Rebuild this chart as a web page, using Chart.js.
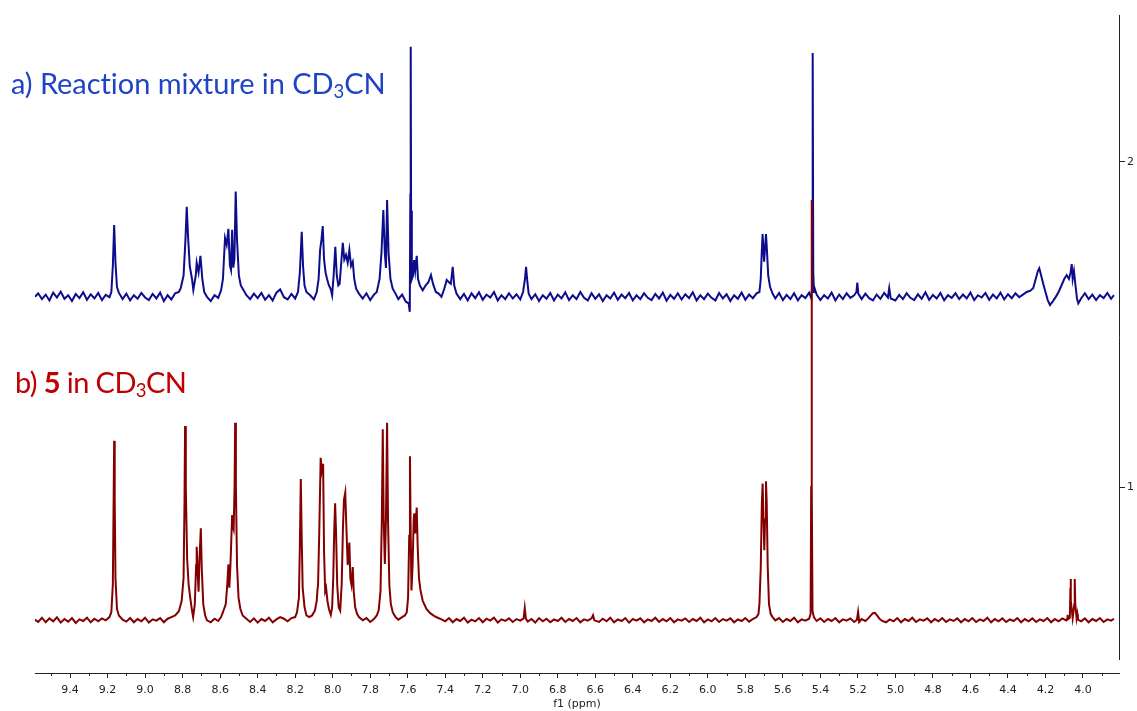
<!DOCTYPE html>
<html>
<head>
<meta charset="utf-8">
<title>1H NMR</title>
<script src="https://cdn.jsdelivr.net/npm/chart.js@4.4.1/dist/chart.umd.min.js"></script>
<style>
  html, body { margin: 0; padding: 0; background: #fff; }
  #wrap { position: relative; width: 1137px; height: 711px; overflow: hidden; }
  .lbl { position: absolute; font-family: Lato, "Open Sans", sans-serif; font-size: 29px; line-height: 1; white-space: nowrap; }
  .lbl sub { font-size: 0.64em; vertical-align: -0.24em; line-height: 0; }
</style>
</head>
<body>
<div id="wrap">
  <canvas id="nmr" width="1137" height="711"></canvas>
  <div class="lbl" id="label-a" style="left:11px; top:68px; color:#1f44c4; letter-spacing:-0.05px">a) Reaction mixture in CD<sub>3</sub>CN</div>
  <div class="lbl" id="label-b" style="left:15px; top:367px; color:#c00000; letter-spacing:-0.6px">b) <b>5</b> in CD<sub>3</sub>CN</div>
</div>
<script>
(function () {
  'use strict';

  // axis ranges (ppm runs right to left)
  const xRange = [9.587, 3.808];
  const yRange = [0.428, 2.452];
  const yAxisSpan = [2.452, 0.468];   // where the right-hand axis line is drawn
  const minorTicks = [9.5, 9.3, 9.1, 8.9, 8.7, 8.5, 8.3, 8.1, 7.9, 7.7, 7.5, 7.3, 7.1, 6.9, 6.7, 6.5,
    6.3, 6.1, 5.9, 5.7, 5.5, 5.3, 5.1, 4.9, 4.7, 4.5, 4.3, 4.1, 3.9];

  // a) reaction mixture, [ppm, intensity]
  const blueTrace = [
    [9.587,1.585],[9.57,1.596],[9.55,1.578],[9.53,1.592],[9.51,1.574],[9.49,1.598],[9.47,1.583],[9.45,1.601],
    [9.43,1.579],[9.41,1.590],[9.39,1.572],[9.37,1.594],[9.35,1.581],[9.33,1.599],[9.31,1.576],[9.29,1.593],
    [9.27,1.580],[9.25,1.597],[9.23,1.575],[9.21,1.591],[9.19,1.584],
    [9.18,1.600],[9.172,1.680],[9.165,1.806],[9.158,1.690],[9.15,1.615],[9.14,1.598],
    [9.12,1.578],[9.10,1.595],[9.08,1.574],[9.06,1.590],[9.04,1.579],[9.02,1.597],[9.00,1.583],[8.98,1.575],
    [8.96,1.594],[8.94,1.580],[8.92,1.598],[8.90,1.572],[8.88,1.590],[8.86,1.577],[8.84,1.596],[8.82,1.600],
    [8.81,1.612],[8.795,1.650],[8.785,1.760],[8.778,1.862],[8.771,1.770],[8.762,1.680],[8.75,1.640],
    [8.743,1.606],[8.73,1.650],[8.725,1.690],[8.715,1.660],[8.705,1.711],[8.695,1.640],[8.685,1.600],[8.67,1.585],
    [8.65,1.572],[8.63,1.590],[8.61,1.582],[8.595,1.605],[8.585,1.640],[8.574,1.766],[8.565,1.745],[8.556,1.794],
    [8.548,1.682],[8.542,1.668],[8.536,1.791],[8.530,1.675],[8.524,1.700],[8.517,1.909],[8.510,1.760],
    [8.500,1.650],[8.490,1.620],[8.475,1.605],[8.46,1.590],
    [8.44,1.578],[8.42,1.595],[8.40,1.581],[8.38,1.597],[8.36,1.576],[8.34,1.590],[8.32,1.574],[8.30,1.598],
    [8.28,1.608],[8.26,1.584],[8.24,1.577],[8.22,1.594],[8.20,1.580],
    [8.185,1.600],[8.175,1.660],[8.165,1.785],[8.158,1.680],[8.15,1.620],[8.14,1.600],
    [8.12,1.590],[8.10,1.577],[8.085,1.600],[8.075,1.640],[8.067,1.730],[8.060,1.760],[8.053,1.803],
    [8.046,1.700],[8.038,1.660],[8.03,1.640],[8.02,1.620],[8.01,1.608],[8.003,1.590],
    [7.995,1.650],[7.986,1.739],[7.978,1.650],[7.970,1.620],[7.963,1.625],[7.953,1.700],[7.946,1.751],
    [7.938,1.700],[7.929,1.714],[7.920,1.690],[7.911,1.729],[7.902,1.680],[7.893,1.693],[7.885,1.640],
    [7.875,1.610],[7.86,1.595],
    [7.84,1.580],[7.82,1.596],[7.80,1.575],[7.78,1.592],[7.765,1.600],
    [7.75,1.640],[7.740,1.720],[7.730,1.852],[7.722,1.720],[7.716,1.674],[7.710,1.883],[7.702,1.720],
    [7.692,1.640],[7.68,1.610],[7.665,1.595],[7.65,1.578],[7.63,1.592],[7.61,1.570],[7.595,1.565],
    [7.589,1.539],[7.586,1.900],[7.584,2.354],[7.582,1.850],[7.578,1.640],[7.572,1.650],[7.566,1.698],
    [7.560,1.665],[7.552,1.711],[7.545,1.640],[7.535,1.620],[7.520,1.605],[7.505,1.620],[7.490,1.630],
    [7.476,1.652],[7.465,1.625],[7.450,1.600],[7.435,1.595],[7.420,1.585],[7.405,1.610],[7.392,1.637],
    [7.380,1.630],[7.370,1.625],[7.360,1.677],[7.352,1.620],[7.340,1.595],
    [7.32,1.578],[7.30,1.594],[7.28,1.574],[7.26,1.596],[7.24,1.581],[7.22,1.599],[7.20,1.576],[7.18,1.592],
    [7.16,1.583],[7.14,1.600],[7.12,1.574],[7.10,1.590],[7.08,1.578],[7.06,1.596],[7.04,1.580],[7.02,1.593],
    [7.00,1.577],[6.985,1.600],[6.975,1.640],[6.969,1.677],[6.962,1.630],[6.955,1.595],
    [6.94,1.578],[6.92,1.593],[6.90,1.572],[6.88,1.590],[6.86,1.579],[6.84,1.597],[6.82,1.574],[6.80,1.592],
    [6.78,1.580],[6.76,1.599],[6.74,1.575],[6.72,1.590],[6.70,1.578],[6.68,1.600],[6.66,1.582],[6.64,1.574],
    [6.62,1.596],[6.60,1.579],[6.58,1.593],[6.56,1.572],[6.54,1.590],[6.52,1.580],[6.50,1.598],[6.48,1.576],
    [6.46,1.592],[6.44,1.581],[6.42,1.597],[6.40,1.574],[6.38,1.590],[6.36,1.578],[6.34,1.596],[6.32,1.582],
    [6.30,1.575],[6.28,1.594],[6.26,1.580],[6.24,1.598],[6.22,1.573],[6.20,1.591],[6.18,1.579],[6.16,1.596],
    [6.14,1.577],[6.12,1.593],[6.10,1.581],[6.08,1.599],[6.06,1.574],[6.04,1.590],[6.02,1.578],[6.00,1.595],
    [5.98,1.582],[5.96,1.574],[5.94,1.597],[5.92,1.580],[5.90,1.593],[5.88,1.572],[5.86,1.590],[5.84,1.579],
    [5.82,1.598],[5.80,1.576],[5.78,1.592],[5.76,1.581],[5.74,1.596],[5.725,1.600],
    [5.718,1.640],[5.712,1.730],[5.708,1.778],[5.700,1.693],[5.690,1.778],[5.685,1.730],[5.678,1.650],
    [5.668,1.615],[5.655,1.595],
    [5.64,1.580],[5.62,1.597],[5.60,1.575],[5.58,1.591],[5.56,1.578],[5.54,1.596],[5.52,1.574],[5.50,1.590],
    [5.48,1.581],[5.46,1.598],[5.448,1.580],[5.444,1.620],[5.441,2.335],[5.438,1.660],[5.434,1.600],
    [5.43,1.610],[5.42,1.592],
    [5.40,1.575],[5.38,1.590],[5.36,1.580],[5.34,1.598],[5.32,1.574],[5.30,1.592],[5.28,1.578],[5.26,1.596],
    [5.24,1.582],[5.22,1.590],[5.208,1.600],[5.203,1.629],[5.198,1.595],[5.18,1.578],[5.16,1.595],[5.14,1.581],
    [5.12,1.574],[5.10,1.592],[5.08,1.579],[5.06,1.597],[5.04,1.583],[5.033,1.612],[5.025,1.580],[5.00,1.574],
    [4.98,1.591],[4.96,1.578],[4.94,1.596],[4.92,1.582],[4.90,1.575],[4.88,1.593],[4.86,1.579],[4.84,1.599],
    [4.82,1.576],[4.80,1.591],[4.78,1.580],[4.76,1.597],[4.74,1.574],[4.72,1.590],[4.70,1.582],[4.68,1.596],
    [4.66,1.578],[4.64,1.592],[4.62,1.580],[4.60,1.598],[4.58,1.575],[4.56,1.590],[4.54,1.583],[4.52,1.597],
    [4.50,1.576],[4.48,1.592],[4.46,1.580],[4.44,1.598],[4.42,1.577],[4.40,1.593],[4.38,1.581],[4.36,1.596],
    [4.34,1.584],[4.32,1.592],[4.30,1.600],
    [4.28,1.604],[4.265,1.612],[4.252,1.640],[4.240,1.665],[4.233,1.673],[4.225,1.655],[4.212,1.625],
    [4.200,1.600],[4.188,1.575],[4.176,1.560],[4.160,1.572],[4.145,1.585],[4.130,1.600],[4.115,1.620],
    [4.100,1.640],[4.087,1.652],[4.075,1.640],[4.066,1.660],[4.060,1.686],[4.055,1.640],[4.048,1.664],
    [4.040,1.620],[4.032,1.580],[4.025,1.565],
    [4.01,1.580],[3.99,1.596],[3.97,1.578],[3.95,1.592],[3.93,1.575],[3.91,1.590],[3.89,1.581],[3.87,1.597],
    [3.85,1.579],[3.835,1.590]
  ];

  // b) compound 5, [ppm, intensity]
  const redTrace = [
    [9.587,0.592],[9.57,0.585],[9.55,0.598],[9.53,0.584],[9.51,0.596],[9.49,0.587],[9.47,0.599],[9.45,0.583],
    [9.43,0.594],[9.41,0.586],[9.39,0.597],[9.37,0.582],[9.35,0.593],[9.33,0.588],[9.31,0.598],[9.29,0.584],
    [9.27,0.595],[9.25,0.587],[9.23,0.596],[9.21,0.590],[9.19,0.600],
    [9.18,0.615],[9.172,0.700],[9.168,0.950],[9.165,1.142],[9.162,0.960],[9.158,0.720],[9.150,0.625],[9.140,0.605],
    [9.12,0.592],[9.10,0.586],[9.08,0.597],[9.06,0.584],[9.04,0.594],[9.02,0.587],[9.00,0.598],[8.98,0.583],
    [8.96,0.593],[8.94,0.589],[8.92,0.597],[8.90,0.584],[8.88,0.595],[8.86,0.600],[8.84,0.605],[8.82,0.618],
    [8.805,0.650],[8.795,0.720],[8.790,0.950],[8.787,1.188],[8.783,1.000],[8.776,0.780],[8.768,0.700],
    [8.760,0.662],[8.750,0.620],[8.744,0.600],[8.735,0.640],[8.728,0.760],[8.725,0.816],[8.720,0.740],
    [8.715,0.678],[8.710,0.780],[8.703,0.873],[8.698,0.750],[8.690,0.640],[8.680,0.605],[8.67,0.590],
    [8.65,0.584],[8.63,0.595],[8.61,0.588],[8.595,0.600],[8.585,0.615],[8.570,0.640],[8.562,0.700],
    [8.556,0.762],[8.551,0.690],[8.545,0.760],[8.538,0.880],[8.536,0.914],[8.533,0.880],[8.528,0.870],
    [8.523,1.000],[8.520,1.198],[8.516,1.000],[8.510,0.760],[8.502,0.660],[8.492,0.625],[8.48,0.605],[8.46,0.595],
    [8.44,0.585],[8.42,0.596],[8.40,0.583],[8.38,0.594],[8.36,0.588],[8.34,0.598],[8.32,0.584],[8.30,0.593],
    [8.28,0.600],[8.26,0.595],[8.24,0.587],[8.22,0.597],[8.20,0.600],
    [8.19,0.615],[8.180,0.660],[8.175,0.820],[8.170,1.025],[8.165,0.840],[8.160,0.690],[8.150,0.630],
    [8.140,0.605],[8.125,0.600],[8.110,0.605],[8.095,0.620],[8.085,0.650],[8.082,0.678],[8.078,0.700],
    [8.072,0.850],[8.064,1.090],[8.058,1.050],[8.051,1.072],[8.046,0.800],[8.040,0.680],[8.035,0.690],
    [8.028,0.650],[8.020,0.625],[8.010,0.607],[8.003,0.630],[7.997,0.720],[7.992,0.860],[7.987,0.950],
    [7.982,0.860],[7.976,0.700],[7.968,0.630],[7.960,0.620],[7.952,0.700],[7.945,0.880],[7.940,0.960],
    [7.933,0.983],[7.926,0.860],[7.920,0.760],[7.915,0.800],[7.911,0.829],[7.906,0.720],[7.900,0.700],
    [7.893,0.754],[7.888,0.680],[7.880,0.630],[7.870,0.610],[7.86,0.600],
    [7.84,0.590],[7.82,0.597],[7.80,0.585],[7.78,0.594],[7.765,0.605],
    [7.755,0.620],[7.745,0.680],[7.738,0.900],[7.733,1.178],[7.728,0.900],[7.722,0.763],[7.716,0.900],
    [7.710,1.198],[7.705,0.900],[7.698,0.700],[7.690,0.640],[7.680,0.615],[7.665,0.600],[7.65,0.592],
    [7.63,0.600],[7.615,0.605],[7.605,0.615],[7.598,0.660],[7.592,0.850],[7.588,1.095],[7.584,0.850],
    [7.580,0.682],[7.574,0.760],[7.568,0.900],[7.565,0.919],[7.560,0.860],[7.556,0.900],[7.552,0.937],
    [7.547,0.820],[7.540,0.720],[7.532,0.683],[7.520,0.650],[7.500,0.625],[7.480,0.612],[7.460,0.604],
    [7.44,0.598],[7.42,0.593],
    [7.40,0.587],[7.38,0.597],[7.36,0.584],[7.34,0.594],[7.32,0.588],[7.30,0.598],[7.28,0.583],[7.26,0.592],
    [7.24,0.587],[7.22,0.597],[7.20,0.584],[7.18,0.595],[7.16,0.589],[7.14,0.598],[7.12,0.583],[7.10,0.593],
    [7.08,0.588],[7.06,0.596],[7.04,0.585],[7.02,0.594],[7.00,0.589],[6.982,0.596],[6.976,0.628],[6.970,0.595],
    [6.96,0.586],[6.94,0.594],[6.92,0.583],[6.90,0.597],[6.88,0.587],[6.86,0.595],[6.84,0.584],[6.82,0.593],
    [6.80,0.588],[6.78,0.598],[6.76,0.585],[6.74,0.594],[6.72,0.588],[6.70,0.597],[6.68,0.584],[6.66,0.593],
    [6.64,0.589],[6.62,0.596],[6.612,0.606],[6.605,0.590],[6.58,0.585],[6.56,0.595],[6.54,0.587],[6.52,0.598],
    [6.50,0.584],[6.48,0.593],[6.46,0.588],[6.44,0.597],[6.42,0.583],[6.40,0.594],[6.38,0.589],[6.36,0.596],
    [6.34,0.584],[6.32,0.593],[6.30,0.588],[6.28,0.598],[6.26,0.585],[6.24,0.594],[6.22,0.587],[6.20,0.597],
    [6.18,0.584],[6.16,0.593],[6.14,0.589],[6.12,0.596],[6.10,0.585],[6.08,0.594],[6.06,0.588],[6.04,0.598],
    [6.02,0.584],[6.00,0.593],[5.98,0.587],[5.96,0.597],[5.94,0.585],[5.92,0.594],[5.90,0.589],[5.88,0.596],
    [5.86,0.584],[5.84,0.593],[5.82,0.588],[5.80,0.597],[5.78,0.586],[5.76,0.594],[5.74,0.600],[5.73,0.610],
    [5.725,0.640],[5.718,0.750],[5.712,0.950],[5.708,1.011],[5.703,0.900],[5.699,0.806],[5.695,0.900],
    [5.690,1.018],[5.686,0.950],[5.681,0.760],[5.674,0.640],[5.665,0.610],[5.655,0.600],
    [5.64,0.590],[5.62,0.597],[5.60,0.585],[5.58,0.594],[5.56,0.588],[5.54,0.598],[5.52,0.584],[5.50,0.593],
    [5.48,0.589],[5.46,0.595],[5.452,0.610],[5.449,1.000],[5.447,1.883],[5.445,1.000],[5.442,0.620],
    [5.435,0.600],[5.42,0.588],
    [5.40,0.596],[5.38,0.585],[5.36,0.594],[5.34,0.588],[5.32,0.597],[5.30,0.584],[5.28,0.593],[5.26,0.589],
    [5.24,0.596],[5.22,0.585],[5.205,0.592],[5.199,0.616],[5.193,0.585],[5.18,0.594],[5.16,0.588],[5.145,0.596],
    [5.13,0.606],[5.12,0.612],[5.109,0.613],[5.098,0.605],[5.085,0.595],[5.07,0.588],[5.05,0.584],[5.03,0.593],
    [5.01,0.587],[4.99,0.597],[4.97,0.584],[4.95,0.594],[4.93,0.588],[4.91,0.598],[4.89,0.585],[4.87,0.593],
    [4.85,0.589],[4.83,0.596],[4.81,0.584],[4.79,0.594],[4.77,0.587],[4.75,0.597],[4.73,0.585],[4.71,0.593],
    [4.69,0.588],[4.67,0.596],[4.65,0.584],[4.63,0.594],[4.61,0.587],[4.59,0.597],[4.57,0.585],[4.55,0.593],
    [4.53,0.588],[4.51,0.598],[4.49,0.584],[4.47,0.594],[4.45,0.587],[4.43,0.596],[4.41,0.585],[4.39,0.593],
    [4.37,0.588],[4.35,0.597],[4.33,0.584],[4.31,0.594],[4.29,0.587],[4.27,0.596],[4.25,0.585],[4.23,0.593],
    [4.21,0.588],[4.19,0.597],[4.17,0.584],[4.15,0.594],[4.13,0.587],[4.11,0.596],
    [4.090,0.590],[4.084,0.596],[4.082,0.607],[4.079,0.594],[4.070,0.598],[4.067,0.690],[4.066,0.717],
    [4.064,0.650],[4.055,0.597],[4.046,0.640],[4.044,0.717],[4.041,0.640],[4.034,0.596],[4.030,0.609],
    [4.027,0.592],
    [4.01,0.587],[3.99,0.596],[3.97,0.584],[3.95,0.594],[3.93,0.588],[3.91,0.597],[3.89,0.585],[3.87,0.593],
    [3.85,0.589],[3.835,0.595]
  ];

  const BLUE = '#0c0c8c';
  const RED = '#840000';
  const AXIS = '#222';
  const TICK_FONT = { family: '"DejaVu Sans", Tahoma, sans-serif', size: 11 };

  const toXY = arr => arr.map(p => ({ x: p[0], y: p[1] }));

  // minor ticks on the ppm axis and the detached right-hand axis line
  const extraAxis = {
    id: 'extraAxis',
    afterDraw(chart) {
      const { ctx } = chart;
      const x = chart.scales.x, y = chart.scales.y;
      ctx.save();
      ctx.strokeStyle = AXIS;
      ctx.lineWidth = 1;
      ctx.beginPath();
      minorTicks.forEach(v => {
        const px = Math.round(x.getPixelForValue(v)) + 0.5;
        ctx.moveTo(px, x.top);
        ctx.lineTo(px, x.top + 3);
      });
      const lx = Math.round(y.left) + 0.5;
      ctx.moveTo(lx, y.getPixelForValue(yAxisSpan[0]));
      ctx.lineTo(lx, y.getPixelForValue(yAxisSpan[1]));
      ctx.stroke();
      ctx.restore();
    }
  };

  new Chart(document.getElementById('nmr'), {
    type: 'line',
    data: {
      datasets: [
        { label: 'a', data: toXY(redTrace), borderColor: RED, borderWidth: 2, pointRadius: 0, tension: 0, fill: false },
        { label: 'b', data: toXY(blueTrace), borderColor: BLUE, borderWidth: 2, pointRadius: 0, tension: 0, fill: false },
      ],
    },
    options: {
      responsive: false,
      animation: false,
      events: [],
      layout: { padding: { left: 35, top: 15, right: 0, bottom: 0 } },
      plugins: { legend: { display: false }, tooltip: { enabled: false } },
      scales: {
        x: {
          type: 'linear', reverse: true, min: xRange[1], max: xRange[0],
          afterFit(s) { s.height = 38; },
          border: { display: true, color: AXIS, width: 1 },
          grid: { drawOnChartArea: false, drawTicks: true, tickLength: 5, color: AXIS },
          ticks: {
            stepSize: 0.2, includeBounds: false, autoSkip: false, maxRotation: 0,
            color: AXIS, font: TICK_FONT, padding: 6,
            callback: v => v.toFixed(1),
          },
          title: { display: true, text: 'f1 (ppm)', color: AXIS, font: TICK_FONT, padding: { top: 0, bottom: 0 } },
        },
        y: {
          type: 'linear', position: 'right', min: yRange[0], max: yRange[1],
          afterFit(s) { s.width = 18; },
          border: { display: false },
          grid: { drawOnChartArea: false, drawTicks: true, tickLength: 6, color: AXIS },
          ticks: { stepSize: 1, includeBounds: false, color: AXIS, font: TICK_FONT, padding: 2, callback: v => String(v) },
        },
      },
    },
    plugins: [extraAxis],
  });
})();
</script>
</body>
</html>
